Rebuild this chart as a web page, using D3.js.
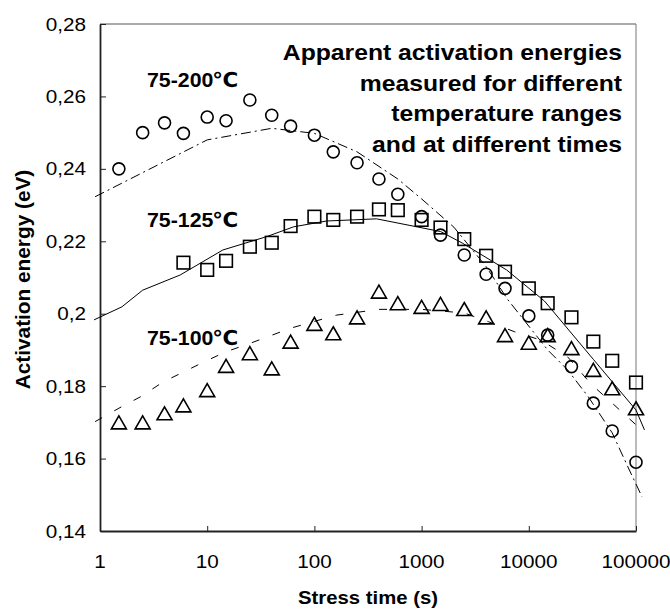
<!DOCTYPE html>
<html>
<head>
<meta charset="utf-8">
<script src="https://cdn.jsdelivr.net/npm/d3@7"></script>
<style>
  body { margin: 0; background: #fff; }
  text { font-family: 'Liberation Sans', Arial, 'Noto Sans CJK SC', sans-serif; fill: #000; }
  .deg { font-family: 'DejaVu Sans', sans-serif; }
</style>
</head>
<body>
<svg id="chart"></svg>
<script>
// measured points: stress time (s) and apparent activation energy (eV)
const times200 = [1.5, 2.5, 4, 6, 10, 15, 25, 40, 60, 100, 150, 250, 400, 600, 1000, 1500, 2500, 4000, 6000, 10000, 15000, 25000, 40000, 60000, 100000];
const energy200 = [0.240, 0.250, 0.2527, 0.2498, 0.2543, 0.2533, 0.259, 0.2548, 0.2518, 0.2493, 0.2447, 0.2417, 0.2372, 0.2330, 0.2268, 0.2217, 0.2162, 0.2109, 0.2070, 0.1994, 0.1941, 0.1854, 0.1753, 0.1676, 0.159];

const times125 = [6, 10, 15, 25, 40, 60, 100, 150, 250, 400, 600, 1000, 1500, 2500, 4000, 6000, 10000, 15000, 25000, 40000, 60000, 100000];
const energy125 = [0.2141, 0.2121, 0.2146, 0.2185, 0.2196, 0.2242, 0.2268, 0.2259, 0.2268, 0.2288, 0.2286, 0.2259, 0.2238, 0.2206, 0.2160, 0.2116, 0.2070, 0.2029, 0.1990, 0.1923, 0.1870, 0.1810];

const times100 = [1.5, 2.5, 4, 6, 10, 15, 25, 40, 60, 100, 150, 250, 400, 600, 1000, 1500, 2500, 4000, 6000, 10000, 15000, 25000, 40000, 60000, 100000];
const energy100 = [0.170, 0.170, 0.1725, 0.1747, 0.1789, 0.1856, 0.1891, 0.1849, 0.1923, 0.1972, 0.1946, 0.1990, 0.2061, 0.2029, 0.2019, 0.2027, 0.2013, 0.1990, 0.1941, 0.1920, 0.1941, 0.1905, 0.1845, 0.1794, 0.1739];

// fitted curves
const fitTimes200 = [0.9, 10, 40, 100, 250, 600, 1000, 2000, 4000, 6400, 15000, 23000, 36000, 60000, 84000, 114000];
const fit200 = [0.2323, 0.248, 0.2512, 0.2498, 0.2447, 0.2372, 0.2317, 0.2239, 0.2130, 0.2038, 0.19, 0.1845, 0.177, 0.1671, 0.1577, 0.1494];

const fitTimes125 = [0.88, 1.6, 2.5, 5.6, 14, 36, 64, 130, 380, 1500, 2400, 6200, 14000, 40000, 100000, 120000];
const fit125 = [0.1983, 0.2019, 0.2065, 0.2107, 0.2176, 0.2213, 0.224, 0.2256, 0.2262, 0.2227, 0.2195, 0.2121, 0.2035, 0.1874, 0.1734, 0.1679];

const fitTimes100 = [0.9, 1.5, 2.4, 3.9, 6.4, 9.5, 15, 25, 60, 160, 400, 1000, 2500, 4200, 7400, 13000, 23000, 38000, 60000, 113000];
const fit100 = [0.1702, 0.1739, 0.1771, 0.1812, 0.1843, 0.1868, 0.1895, 0.1918, 0.196, 0.1996, 0.2012, 0.2012, 0.2002, 0.1978, 0.195, 0.1927, 0.1881, 0.1806, 0.1753, 0.1679];

const xTicks = [1, 10, 100, 1000, 10000, 100000];
const xTickLabels = ['1', '10', '100', '1000', '10000', '100000'];
const yTicks = [0.14, 0.16, 0.18, 0.2, 0.22, 0.24, 0.26, 0.28];
const yTickLabels = ['0,14', '0,16', '0,18', '0,2', '0,22', '0,24', '0,26', '0,28'];

const seriesLabels = ['75-200', '75-125', '75-100'];
const noteLines = ['Apparent activation energies', 'measured for different', 'temperature ranges', 'and at different times'];

const width = 670, height = 610;
const margin = { top: 24, right: 34, bottom: 79, left: 100 };
const innerW = width - margin.left - margin.right;
const innerH = height - margin.top - margin.bottom;
const stretch = 1.15; // text in the original is a bit wider than plain Arial

const svg = d3.select('#chart').attr('width', width).attr('height', height);
const chart = svg.append('g').attr('transform', `translate(${margin.left},${margin.top})`);

const xScale = d3.scaleLog().domain([1, 100000]).range([0, innerW]);
const yScale = d3.scaleLinear().domain([0.14, 0.28]).range([innerH, 0]);

// helper for horizontally stretched text
function addText(parent, x, y, str, size, weight, anchor, sx) {
  return parent.append('text')
    .attr('transform', `translate(${x},${y}) scale(${sx || stretch},1)`)
    .attr('text-anchor', anchor)
    .style('font-size', size + 'px')
    .style('font-weight', weight)
    .text(str);
}

// frame: top and right border lighter than the axes
chart.append('line').attr('x1', 0).attr('x2', innerW).attr('y1', 0).attr('y2', 0)
  .attr('stroke', '#555').attr('stroke-width', 1);
chart.append('line').attr('x1', innerW).attr('x2', innerW).attr('y1', 0).attr('y2', innerH)
  .attr('stroke', '#777').attr('stroke-width', 1);

// axes
const xAxis = d3.axisBottom(xScale).tickValues(xTicks).tickSizeInner(-5).tickSizeOuter(0).tickFormat('');
const yAxis = d3.axisLeft(yScale).tickValues(yTicks).tickSizeInner(-6).tickSizeOuter(0).tickFormat('');

const xAxisG = chart.append('g').attr('transform', `translate(0,${innerH})`).call(xAxis);
const yAxisG = chart.append('g').call(yAxis);
[xAxisG, yAxisG].forEach(g => {
  g.select('.domain').attr('stroke', '#222').attr('stroke-width', 1.8);
  g.selectAll('.tick line').attr('stroke', '#222').attr('stroke-width', 1);
});

xTicks.forEach((t, i) => {
  addText(chart, xScale(t), innerH + 37, xTickLabels[i], 18, 'normal', 'middle');
});
yTicks.forEach((v, i) => {
  addText(chart, -14, yScale(v) + 6.5, yTickLabels[i], 18, 'normal', 'end');
});

// axis titles
addText(svg, margin.left + innerW / 2, 604, 'Stress time (s)', 19, 'bold', 'middle', 1.07);
svg.append('text')
  .attr('transform', `translate(30,${margin.top + innerH / 2 + 2}) rotate(-90)`)
  .attr('text-anchor', 'middle')
  .style('font-size', '20.8px')
  .style('font-weight', 'bold')
  .text('Activation energy (eV)');

// fitted curves
const line = d3.line().x(d => xScale(d[0])).y(d => yScale(d[1]));

chart.append('path')
  .datum(fitTimes200.map((t, i) => [t, fit200[i]]))
  .attr('d', line).attr('fill', 'none').attr('stroke', '#000').attr('stroke-width', 1)
  .attr('stroke-dasharray', '10,4,2,4');
chart.append('path')
  .datum(fitTimes125.map((t, i) => [t, fit125[i]]))
  .attr('d', line).attr('fill', 'none').attr('stroke', '#000').attr('stroke-width', 1);
chart.append('path')
  .datum(fitTimes100.map((t, i) => [t, fit100[i]]))
  .attr('d', line).attr('fill', 'none').attr('stroke', '#000').attr('stroke-width', 1)
  .attr('stroke-dasharray', '8,14');

// markers
chart.selectAll('.pt200')
  .data(times200.map((t, i) => [t, energy200[i]]))
  .join('circle')
  .attr('class', 'pt200')
  .attr('cx', d => xScale(d[0]))
  .attr('cy', d => yScale(d[1]))
  .attr('r', 6)
  .attr('fill', 'none').attr('stroke', '#000').attr('stroke-width', 1.6);

chart.selectAll('.pt125')
  .data(times125.map((t, i) => [t, energy125[i]]))
  .join('rect')
  .attr('class', 'pt125')
  .attr('x', d => xScale(d[0]) - 6.3)
  .attr('y', d => yScale(d[1]) - 6.3)
  .attr('width', 12.6).attr('height', 12.6)
  .attr('fill', 'none').attr('stroke', '#000').attr('stroke-width', 1.6);

chart.selectAll('.pt100')
  .data(times100.map((t, i) => [t, energy100[i]]))
  .join('path')
  .attr('class', 'pt100')
  .attr('transform', d => `translate(${xScale(d[0])},${yScale(d[1])})`)
  .attr('d', 'M0,-6.5L7.5,6.5L-7.5,6.5Z')
  .attr('fill', 'none').attr('stroke', '#000').attr('stroke-width', 1.6);

// series labels; the degree sign is a separate, narrowed glyph
const labelY = [63.3, 202.7, 321];
const labelSx = 1.04;
seriesLabels.forEach((s, i) => {
  const t = addText(chart, 47, labelY[i], s, 20.5, 'bold', 'start', labelSx);
  const w = t.node().getComputedTextLength() * labelSx;
  const deg = chart.append('text').attr('class', 'deg')
    .style('font-size', '20.5px').style('font-weight', 'bold').text('℃');
  const dw = deg.node().getComputedTextLength();
  deg.attr('transform', `translate(${47 + w - 1},${labelY[i]}) scale(${26 / dw},1)`);
});

// note
noteLines.forEach((s, i) => {
  addText(chart, 522, 36 + i * 30.5, s, 21.5, 'bold', 'end');
});
</script>
</body>
</html>
